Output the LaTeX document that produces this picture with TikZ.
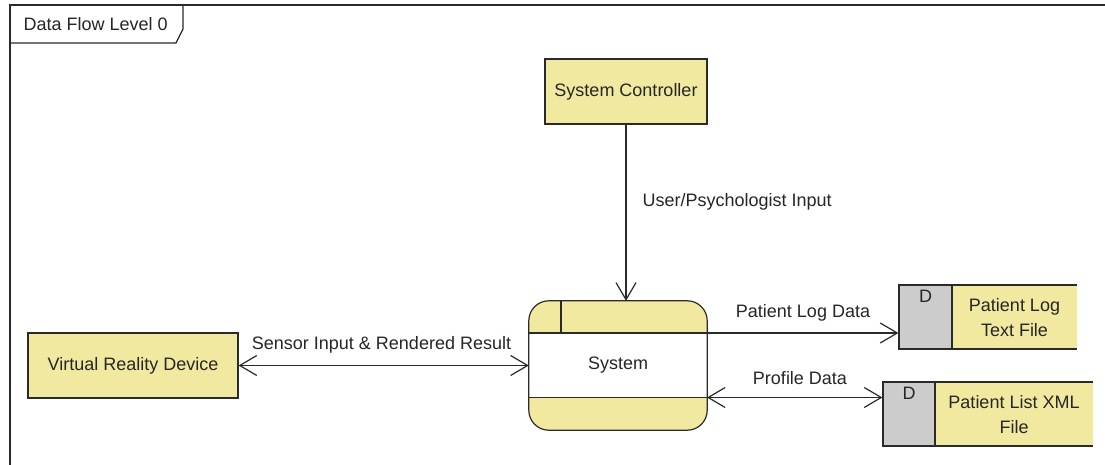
\documentclass[tikz,border=0pt]{standalone}
\usepackage{fontspec}
\setmainfont{Liberation Sans}
\usetikzlibrary{arrows.meta}
\definecolor{dfyellow}{HTML}{F2E9A0}
\definecolor{dfgray}{HTML}{CCCCCC}
\definecolor{dfline}{HTML}{2A2A2A}
\definecolor{dftext}{HTML}{262626}
\begin{document}
\begin{tikzpicture}[x=1pt,y=-1pt,
  every node/.style={font=\fontsize{18}{25}\selectfont, text=dftext},
  entity/.style={draw=dfline, line width=1.2pt, fill=dfyellow, inner sep=0pt},
  flow/.style={draw=dfline, line width=1.2pt},
  storeid/.style={draw=dfline, line width=1.2pt, fill=dfgray, inner sep=0pt},
  >={Straight Barb[length=17pt,width=20pt,line width=1.2pt]}
]
\useasboundingbox (0,0) rectangle (1105,465);
\fill[white] (0,0) rectangle (1105,465);

% diagram frame with its name tab
\draw[flow] (1105,5) -- (10,5) -- (10,465);
\draw[flow] (10,43) -- (176,43) -- (183,29) -- (183,5);
\node[anchor=west] (frame) at (20,24.5) {Data Flow Level 0};

% external entities
\node[entity, minimum width=162, minimum height=65] (ctrl) at (626,91.5) {System Controller};
\node[entity, minimum width=210, minimum height=65] (vr) at (133,365.5) {Virtual Reality Device};

% process
\node[minimum width=178, minimum height=129, inner sep=0pt] (sys) at (618,365.5) {};
\fill[dfyellow, rounded corners=20] (sys.south west) rectangle (sys.north east);
\fill[white] (529,333) rectangle (707,397.5);
\draw[flow, rounded corners=20] (sys.south west) rectangle (sys.north east);
\draw[flow] (529,333) -- (707,333);
\draw[flow] (529,397.5) -- (707,397.5);
\draw[flow] (561,301) -- (561,333);
\node (systxt) at (618,365) {System};
\coordinate (hdrE) at (707,333);
\coordinate (ftrE) at (707,397.5);

% data store: patient log
\fill[dfyellow] (952,285) rectangle (1077,349);
\draw[flow] (952,285) -- (1077,285);
\draw[flow] (952,349) -- (1077,349);
\node[storeid, minimum width=53, minimum height=64] (logd) at (925.5,317) {};
\node (logid) at (925.5,296.5) {D};
\node[align=center] (logtxt) at (1014.5,317.5) {Patient Log\\Text File};

% data store: patient list
\fill[dfyellow] (935,382) rectangle (1093,446);
\draw[flow] (935,382) -- (1093,382);
\draw[flow] (935,446) -- (1093,446);
\node[storeid, minimum width=52, minimum height=64] (listd) at (909,414) {};
\node (listid) at (909,393) {D};
\node[align=center] (listtxt) at (1014,414.5) {Patient List XML\\File};

% data flows
\draw[flow,->] (ctrl.south) -- (ctrl.south |- sys.north);
\draw[flow,<->] (vr.east) -- (sys.west);
\draw[flow,->] (hdrE) -- (hdrE -| logd.west);
\draw[flow,<->] (ftrE) -- (ftrE -| listd.west);

% flow labels
\node[anchor=west] (lblctrl) at (639,201.5) {User/Psychologist Input};
\node (lblvr) at (381.5,345) {Sensor Input \& Rendered Result};
\node (lbllog) at (803,313.3) {Patient Log Data};
\node (lbllist) at (800,377.7) {Profile Data};
\end{tikzpicture}
\end{document}
